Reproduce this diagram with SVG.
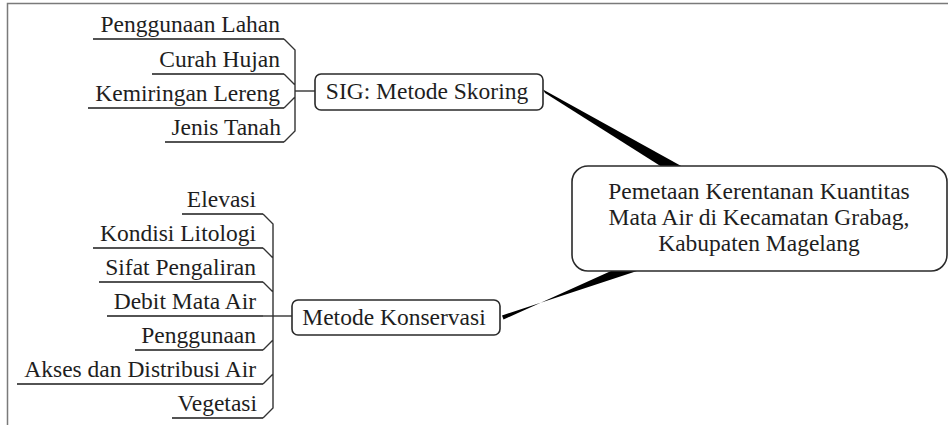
<svg xmlns="http://www.w3.org/2000/svg" width="948" height="425" viewBox="0 0 948 425">
<style>
text{font-family:"Liberation Serif","Times New Roman",serif;font-size:23.5px;fill:#1e1e1e}
.leaf text{text-anchor:end}
.ul{stroke:#1a1a1a;stroke-width:1.6;fill:none}
.box{fill:#fff;stroke:#2a2a2a;stroke-width:1.6}
.br{stroke:#333;stroke-width:1.4;fill:none}
.wedge{fill:#000}
</style>
<rect width="948" height="425" fill="#fff"/>
<path d="M7.5,425 V3.5 H948" fill="none" stroke="#7a7a7a" stroke-width="1.5"/>
<g id="connectors">
<polygon class="wedge" points="543,89.5 545,93 662,167 683,167"/>
<polygon class="wedge" points="502,315.5 503.5,319.5 611,271 637,271"/>
<path class="br" d="M284,39 L295,50 V131 L284,142 M284,74 L295,85 M284,108 L295,97"/>
<path class="br" d="M295,91 H315" stroke-width="1.8"/>
<path class="br" d="M263,214 L273,224 V408 L263,418 M263,248 L273,258 M263,282 L273,292 M263,350 L273,340 M263,384 L273,374"/>
<path class="br" d="M263,316 H292" stroke-width="2.6" stroke="#111"/>
</g>
<g id="main">
<rect class="box" x="572" y="166" width="375" height="105" rx="16"/>
<text x="759" y="199" text-anchor="middle">Pemetaan Kerentanan Kuantitas</text>
<text x="759" y="225" text-anchor="middle">Mata Air di Kecamatan Grabag,</text>
<text x="759" y="251" text-anchor="middle">Kabupaten Magelang</text>
</g>
<g id="sig">
<rect class="box" x="315" y="74" width="228" height="36" rx="6"/>
<text x="427" y="99" text-anchor="middle">SIG: Metode Skoring</text>
</g>
<g id="konservasi">
<rect class="box" x="292" y="300" width="208" height="35" rx="6"/>
<text x="394" y="325" text-anchor="middle">Metode Konservasi</text>
</g>
<g id="leaf-penggunaan-lahan" class="leaf"><text x="280" y="32">Penggunaan Lahan</text><path class="ul" d="M93,39 H284"/></g>
<g id="leaf-curah-hujan" class="leaf"><text x="280" y="67">Curah Hujan</text><path class="ul" d="M152,74 H284"/></g>
<g id="leaf-kemiringan" class="leaf"><text x="280" y="101">Kemiringan Lereng</text><path class="ul" d="M88,108 H284"/></g>
<g id="leaf-jenis-tanah" class="leaf"><text x="281" y="135">Jenis Tanah</text><path class="ul" d="M165,142 H284"/></g>
<g id="leaf-elevasi" class="leaf"><text x="256" y="207">Elevasi</text><path class="ul" d="M182,214 H263"/></g>
<g id="leaf-kondisi" class="leaf"><text x="256" y="241">Kondisi Litologi</text><path class="ul" d="M93,248 H263"/></g>
<g id="leaf-sifat" class="leaf"><text x="256" y="275">Sifat Pengaliran</text><path class="ul" d="M99,282 H263"/></g>
<g id="leaf-debit" class="leaf"><text x="256" y="309">Debit Mata Air</text><path class="ul" d="M107,316 H263"/></g>
<g id="leaf-penggunaan" class="leaf"><text x="256" y="343">Penggunaan</text><path class="ul" d="M135,350 H263"/></g>
<g id="leaf-akses" class="leaf"><text x="256" y="377">Akses dan Distribusi Air</text><path class="ul" d="M17,384 H263"/></g>
<g id="leaf-vegetasi" class="leaf"><text x="257" y="411">Vegetasi</text><path class="ul" d="M172,418 H263"/></g>
</svg>
